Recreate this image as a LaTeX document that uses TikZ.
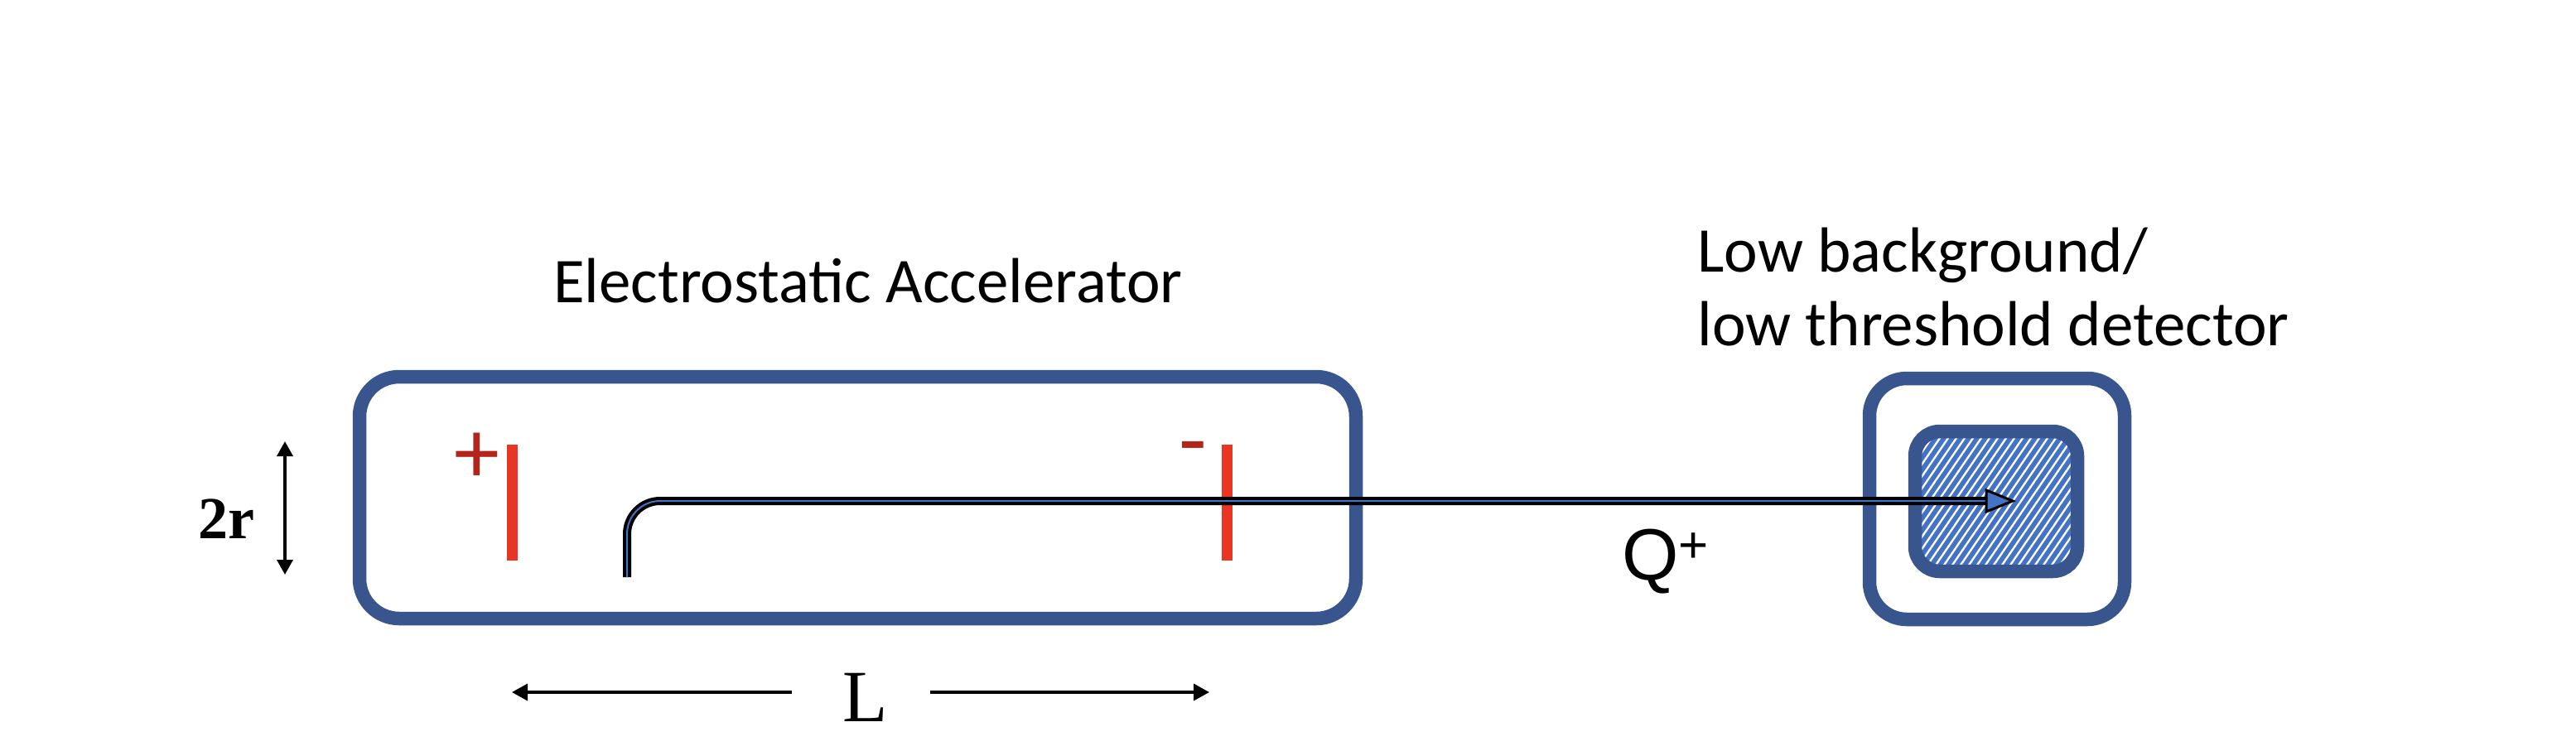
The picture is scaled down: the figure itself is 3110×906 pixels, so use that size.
\documentclass[tikz,border=0pt]{standalone}
\usepackage{fontspec}
\setmainfont{Carlito}
\newfontfamily\timesf{Liberation Serif}
\newfontfamily\arialf{Liberation Sans}
\usetikzlibrary{arrows.meta,calc}
\definecolor{boxblue}{HTML}{39558E}
\definecolor{beamblue}{HTML}{4472C4}
\definecolor{platered}{HTML}{E93524}
\definecolor{signred}{HTML}{B3241A}
\begin{document}
\begin{tikzpicture}[x=0.5pt,y=-0.5pt,
  boxline/.style={draw=boxblue,line width=8.25pt},
  plateline/.style={draw=platered,line width=6.5pt},
  beam/.style={draw=black,line width=2pt,double=beamblue,double distance=1pt},
  dimline/.style={draw=black,line width=1.75pt},
  hatchline/.style={draw=beamblue,line width=2.8pt},
  sans/.style={inner sep=0pt,font=\fontsize{38.5pt}{46pt}\selectfont},
  signtxt/.style={inner sep=0pt,text=signred,font=\fontsize{55pt}{60pt}\selectfont}
]
\fill[white] (0,0) rectangle (3110,906);
\useasboundingbox (0,0) rectangle (3110,906);

% accelerator box
\draw[boxline,rounded corners=24pt] (434,455) rectangle (1637,747);

% plates
\coordinate (p1t) at (618,537); \coordinate (p1b) at (618,677);
\coordinate (p2t) at (1481,537); \coordinate (p2b) at (1481,677);
\draw[plateline] (p1t) -- (p1b);
\draw[plateline] (p2t) -- (p2b);
\node[signtxt] (plus) at (576,553) {+};
\node[signtxt] (minus) at (1440,551) {-};

% detector
\draw[boxline,rounded corners=22.5pt] (2257,457) rectangle (2565,748);
\begin{scope}
  \clip[rounded corners=15pt] (2312,521) rectangle (2508,690);
  \fill[white] (2312,521) rectangle (2508,690);
  \foreach \a in {2150,2160,...,2520} \draw[hatchline] (\a,700) -- ++(130,-190);
\end{scope}
\draw[boxline,rounded corners=15pt] (2312,521) rectangle (2508,690);

% beam
\coordinate (bstart) at (757,697);
\coordinate (bcorner) at (757,605);
\coordinate (bend) at (2400,605);
\coordinate (bhead) at (2430,605);
\draw[beam,rounded corners=20pt] (bstart) -- (bcorner) -- (bend);
\draw[black,line width=1.5pt,fill=beamblue,line join=miter]
  ($(bend)+(-2,-13)$) -- (bhead) -- ($(bend)+(-2,13)$) -- cycle;

% labels
\node[sans,anchor=base] (acctitle) at (1048,365) {Electrostatic Accelerator};
\node[sans,anchor=base west] (det1) at (2049,328) {Low background/};
\node[sans,anchor=base west] (det2) at (2049,417) {low threshold detector};
\node[inner sep=0pt,anchor=base west,font=\arialf\fontsize{44pt}{52pt}\selectfont] (qlbl) at (1958,700)
  {Q\raisebox{10.5pt}{\fontsize{31pt}{36pt}\selectfont +}};

% 2r dimension
\coordinate (rt) at (344,533); \coordinate (rb) at (344,694);
\draw[dimline,{Triangle[length=9pt,width=9.5pt]}-{Triangle[length=9pt,width=9.5pt]}] (rt) -- (rb);
\node[inner sep=0pt,anchor=base,font=\timesf\bfseries\fontsize{36pt}{42pt}\selectfont] (tworlbl) at (273,650) {2r};

% L dimension
\node[inner sep=0pt,anchor=base,font=\timesf\fontsize{44.5pt}{52pt}\selectfont] (llbl) at (1045,871) {L};
\coordinate (la1) at (956,836); \coordinate (la2) at (618,836);
\coordinate (lb1) at (1123,836); \coordinate (lb2) at (1460,836);
\draw[dimline,-{Triangle[length=9.5pt,width=10pt]}] (la1) -- (la2);
\draw[dimline,-{Triangle[length=9.5pt,width=10pt]}] (lb1) -- (lb2);
\end{tikzpicture}
\end{document}
